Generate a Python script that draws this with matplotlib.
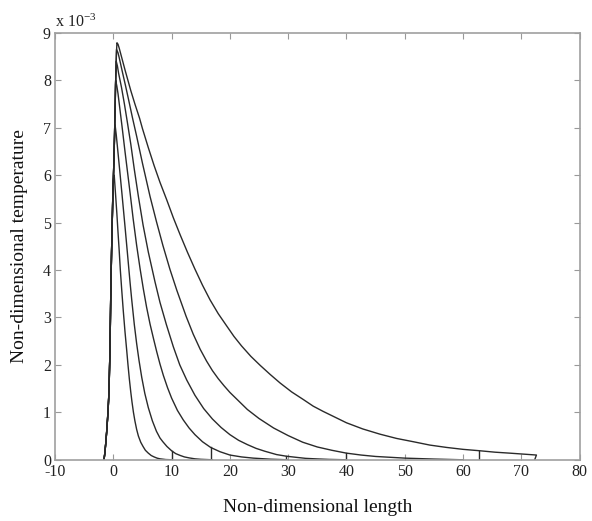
import numpy as np
import matplotlib
matplotlib.use("Agg")
import matplotlib.pyplot as plt

plt.rcParams['font.family'] = ['Liberation Serif', 'DejaVu Serif']
plt.rcParams['mathtext.default'] = 'regular'

# Shared steep rising front (non-dimensional length, temperature x 1e-3)
rise_x = [-1.6, -1.45, -1.3, -1.15, -1.0, -0.9, -0.8, -0.7, -0.6, -0.52, -0.45, -0.38,
          -0.3, -0.2, -0.1, 0.0, 0.1, 0.18, 0.25, 0.32, 0.38, 0.44, 0.48, 0.54]
rise_y = [0.0, 0.15, 0.35, 0.58, 0.85, 1.05, 1.3, 1.68, 2.2, 2.8, 3.4, 3.9,
          4.4, 4.95, 5.5, 5.9, 6.3, 6.7, 7.1, 7.5, 7.9, 8.15, 8.35, 8.6]

# Decaying tails (from peak on), temperature in units of 1e-3
c1_x = [0.15, 0.35, 0.6, 0.8, 1.0, 1.2, 1.44, 1.7, 2.0, 2.3, 2.5, 2.75, 3.0, 3.2, 3.45,
        3.7, 4.0, 4.3, 4.7, 5.1, 5.5, 6.0, 6.5, 7.0, 7.5, 8.0, 9.0, 10.1]
c1_y = [6.0, 5.65, 5.2, 4.8, 4.42, 4.0, 3.58, 3.15, 2.7, 2.3, 2.02, 1.7, 1.42, 1.22, 1.0,
        0.82, 0.64, 0.5, 0.37, 0.28, 0.2, 0.14, 0.09, 0.06, 0.035, 0.02, 0.005, 0.0]

c2_x = [0.3, 0.5, 0.7, 1.0, 1.5, 2.0, 2.4, 2.86, 3.15, 3.6, 4.0, 4.4, 4.87, 5.4, 6.0,
        6.7, 7.4, 8.0, 8.5, 9.2, 10.0, 10.7, 11.5, 12.2, 13.0, 14.0, 15.0, 17.0]
c2_y = [7.06, 6.85, 6.6, 6.22, 5.58, 4.92, 4.38, 3.75, 3.38, 2.85, 2.45, 2.1, 1.74, 1.4, 1.1,
        0.82, 0.6, 0.46, 0.38, 0.28, 0.19, 0.13, 0.09, 0.06, 0.04, 0.02, 0.01, 0.0]

c3_x = [0.4, 0.6, 0.8, 1.1, 1.5, 2.0, 2.9, 3.4, 4.0, 4.6, 5.15, 5.7, 6.3, 6.9, 7.44, 8.0,
        8.58, 9.3, 10.0, 11.0, 12.0, 13.0, 14.0, 15.3, 16.7, 18.3, 20.0, 22.0, 24.0, 27.0, 30.0]
c3_y = [8.0, 7.88, 7.72, 7.42, 7.02, 6.5, 5.6, 5.08, 4.52, 4.02, 3.6, 3.22, 2.86, 2.55, 2.28, 2.02,
        1.78, 1.52, 1.3, 1.04, 0.84, 0.67, 0.53, 0.38, 0.26, 0.17, 0.1, 0.06, 0.035, 0.012, 0.0]

c4_x = [0.5, 0.7, 0.9, 1.4, 1.9, 2.4, 3.0, 3.6, 4.3, 5.1, 6.0, 7.15, 8.0, 9.1, 10.3, 11.4,
        12.6, 14.0, 15.5, 17.0, 18.5, 20.0, 21.5, 23.0, 24.5, 26.0, 28.0, 29.7, 31.5, 33.0,
        35.0, 37.0, 40.0]
c4_y = [8.4, 8.3, 8.15, 7.85, 7.5, 7.12, 6.65, 6.12, 5.55, 4.95, 4.38, 3.75, 3.32, 2.85, 2.38, 2.0,
        1.68, 1.36, 1.08, 0.86, 0.68, 0.53, 0.41, 0.32, 0.24, 0.18, 0.11, 0.075, 0.05, 0.03,
        0.018, 0.008, 0.0]

c5_x = [0.55, 0.8, 1.0, 1.6, 2.1, 2.6, 3.3, 4.0, 5.0, 6.3, 7.4, 8.5, 9.7, 10.9, 12.5, 13.7,
        14.9, 16.0, 17.0, 18.0, 19.0, 20.0, 21.0, 23.0, 25.0, 27.5, 30.0, 32.5, 35.0, 37.5,
        40.0, 42.5, 45.0, 50.0, 55.0, 60.0]
c5_y = [8.65, 8.58, 8.48, 8.15, 7.88, 7.6, 7.2, 6.82, 6.25, 5.55, 5.02, 4.52, 4.02, 3.57, 3.02, 2.65,
        2.33, 2.08, 1.88, 1.71, 1.56, 1.42, 1.3, 1.06, 0.87, 0.67, 0.51, 0.37, 0.27, 0.2,
        0.14, 0.1, 0.07, 0.035, 0.015, 0.0]

c6_x = [0.62, 0.8, 1.0, 1.5, 2.0, 2.5, 3.0, 3.7, 4.5, 5.0, 6.0, 7.0, 8.0, 9.16, 10.3, 11.44,
        12.7, 14.0, 15.3, 16.6, 18.0, 19.4, 20.7, 22.0, 23.6, 25.2, 26.9, 28.6, 30.6, 32.6,
        34.3, 36.0, 38.0, 40.0, 42.8, 45.75, 48.6, 51.5, 54.3, 57.2, 60.0, 62.9, 65.5, 68.0,
        70.3, 72.6, 72.3]
c6_y = [8.79, 8.76, 8.68, 8.45, 8.22, 8.0, 7.78, 7.5, 7.2, 6.98, 6.58, 6.2, 5.85, 5.48, 5.1, 4.75,
        4.38, 4.02, 3.68, 3.37, 3.08, 2.83, 2.6, 2.4, 2.18, 1.99, 1.8, 1.62, 1.43, 1.27,
        1.13, 1.02, 0.9, 0.78, 0.65, 0.54, 0.45, 0.38, 0.31, 0.26, 0.22, 0.19, 0.16, 0.14,
        0.12, 0.10, 0.0]

curves_x = [c1_x, c2_x, c3_x, c4_x, c5_x, c6_x]
curves_y = [c1_y, c2_y, c3_y, c4_y, c5_y, c6_y]

# Vertical end marks and the curve each one reaches
mark_x = [10.1, 16.7, 29.7, 40.0, 62.8]
mark_curve = [1, 2, 3, 4, 5]

x_ticks = [-10, 0, 10, 20, 30, 40, 50, 60, 70, 80]
y_ticks = [0, 1, 2, 3, 4, 5, 6, 7, 8, 9]

fig = plt.figure(figsize=(5.92, 5.21), dpi=100)
ax = fig.add_axes([0.093, 0.1175, 0.886, 0.8195])

line_color = '#2a2a2a'
full_x, full_y = [], []
for cx, cy in zip(curves_x, curves_y):
    peak = cy[0]
    rx = [x for x, y in zip(rise_x, rise_y) if y < peak - 0.05]
    ry = [y for y in rise_y if y < peak - 0.05]
    xs = np.array(rx + cx)
    ys = np.array(ry + cy)
    full_x.append(xs)
    full_y.append(ys)
    ax.plot(xs, ys, color=line_color, lw=1.0, solid_joinstyle='round')

for mx, ci in zip(mark_x, mark_curve):
    xs, ys = full_x[ci], full_y[ci]
    k = int(np.argmax(ys))
    dx, dy = xs[k:], ys[k:]
    order = np.argsort(dx)
    top = np.interp(mx, dx[order], dy[order])
    ax.plot([mx, mx], [0, top], color=line_color, lw=1.0)

ax.set_xlim(-10, 80)
ax.set_ylim(0, 9)
ax.set_xticks(x_ticks)
ax.set_yticks(y_ticks)
ax.set_xticklabels([str(t) for t in x_ticks])
ax.set_yticklabels([str(t) for t in y_ticks])
ax.tick_params(direction='in', length=4, width=0.8, color='#999999',
               top=True, right=True, labelsize=11.5, pad=3, labelcolor='#222222')
for s in ax.spines.values():
    s.set_color('#a0a0a0')
    s.set_linewidth(1.2)

ax.set_xlabel('Non-dimensional length', fontsize=14, labelpad=14, color='#111111')
ax.set_ylabel('Non-dimensional temperature', fontsize=14, labelpad=11, color='#111111')
ax.text(0.0, 1.005, r'x 10$^{-3}$', transform=ax.transAxes, fontsize=11.5,
        ha='left', va='bottom', color='#222222')

fig.savefig('out.png', dpi=100)
